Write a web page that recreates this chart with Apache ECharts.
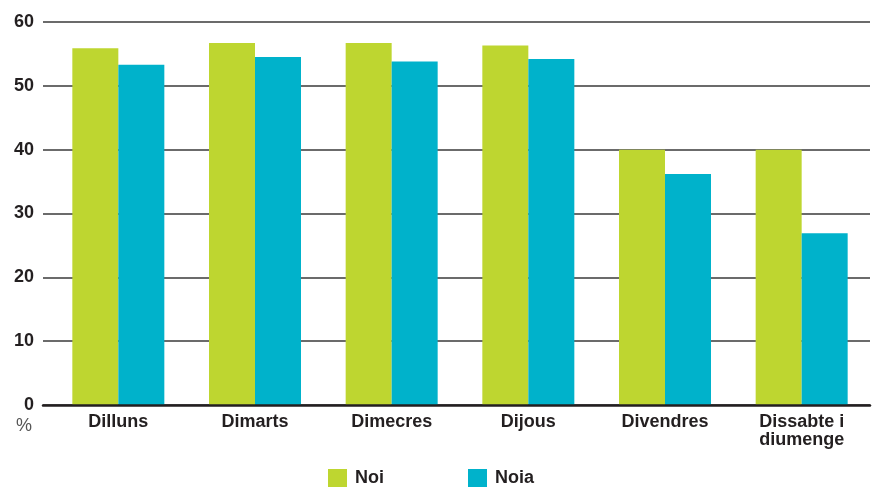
<!DOCTYPE html>
<html>
<head>
<meta charset="utf-8">
<script src="https://cdn.jsdelivr.net/npm/echarts@6/dist/echarts.min.js"></script>
<style>html,body{margin:0;padding:0;background:#fff}#c{width:874px;height:487px}</style>
</head>
<body>
<div id="c"></div>
<script>
const categories = ['Dilluns', 'Dimarts', 'Dimecres', 'Dijous', 'Divendres', 'Dissabte i\ndiumenge'];
const noi = [55.9, 56.7, 56.7, 56.3, 40.0, 40.0];
const noia = [53.3, 54.5, 53.8, 54.2, 36.2, 26.9];
const seriesNames = ['Noi', 'Noia'];
const yTicks = [0, 10, 20, 30, 40, 50, 60];

const font = '"Liberation Sans", Arial, Helvetica, sans-serif';
const chart = echarts.init(document.getElementById('c'));
chart.setOption({
  animation: false,
  textStyle: { fontFamily: font },
  color: ['#bed630', '#00b2cb'],
  grid: [
    { left: 43, right: 4, top: 22, bottom: 82 },
    { left: 50, right: 4, top: 22, bottom: 82 }
  ],
  legend: {
    data: seriesNames,
    top: 464,
    left: 323,
    itemWidth: 19,
    itemHeight: 19,
    itemGap: 84,
    icon: 'rect',
    textStyle: { fontFamily: font, fontSize: 18, fontWeight: 'bold', color: '#231f20', padding: [0, 0, 0, 3] }
  },
  xAxis: [
    { gridIndex: 0, type: 'category', data: categories, z: 10,
      axisLine: { show: true, lineStyle: { color: '#231f20', width: 2.5 } },
      axisTick: { show: false }, axisLabel: { show: false } },
    { gridIndex: 1, type: 'category', data: categories,
      axisLine: { show: false }, axisTick: { show: false },
      axisLabel: { margin: 8, fontFamily: font, fontSize: 18, fontWeight: 'bold', color: '#231f20', lineHeight: 18 } }
  ],
  yAxis: [
    { gridIndex: 0, type: 'value', min: yTicks[0], max: yTicks[yTicks.length - 1], interval: 10,
      axisLine: { show: false }, axisTick: { show: false },
      splitLine: { show: true, lineStyle: { color: '#3a3a3a', width: 1.5 } },
      axisLabel: { margin: 9, fontFamily: font, fontSize: 18, fontWeight: 'bold', color: '#231f20' } },
    { gridIndex: 1, type: 'value', min: yTicks[0], max: yTicks[yTicks.length - 1], interval: 10,
      show: false, splitLine: { show: false } }
  ],
  graphic: [
    { type: 'text', left: 16, top: 417, style: { text: '%', font: '18px ' + font, fill: '#555' } }
  ],
  series: [
    { name: seriesNames[0], type: 'bar', xAxisIndex: 1, yAxisIndex: 1, data: noi, barWidth: 46, barGap: '0%' },
    { name: seriesNames[1], type: 'bar', xAxisIndex: 1, yAxisIndex: 1, data: noia, barWidth: 46, barGap: '0%' }
  ]
});
</script>
</body>
</html>
